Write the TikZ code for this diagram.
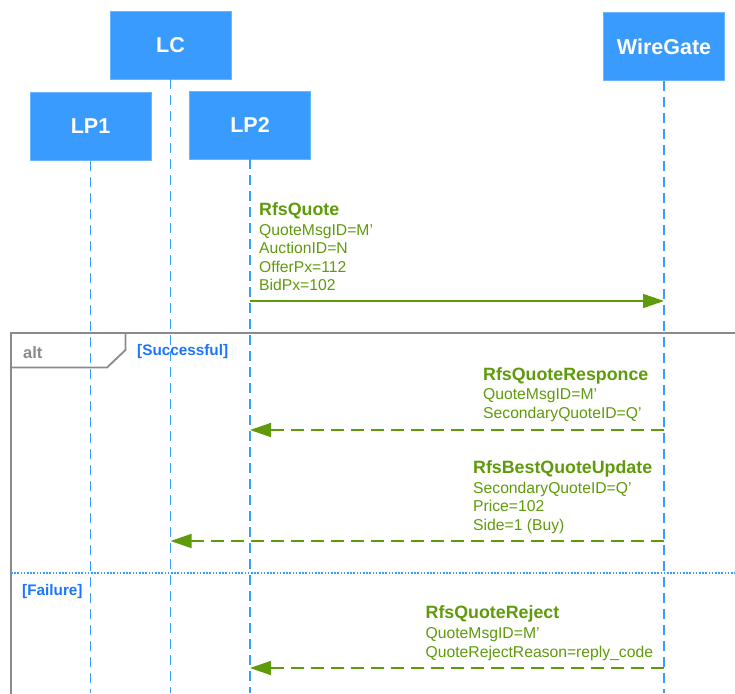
\documentclass[tikz,border=0pt]{standalone}
\usepackage{fontspec}
\setmainfont{Liberation Sans}
\usetikzlibrary{arrows.meta}
\definecolor{boxblue}{HTML}{3A9BFF}
\definecolor{boxedge}{HTML}{6BB5FF}
\definecolor{lifeblue}{HTML}{3D9BFF}
\definecolor{msggreen}{HTML}{5E9A0A}
\definecolor{guardblue}{HTML}{1A75FF}
\definecolor{framegray}{HTML}{8A8A8A}
\begin{document}
\begin{tikzpicture}[x=1pt,y=-1pt,
  actor/.style={draw=boxedge,line width=0.6pt,fill=boxblue,text=white,
    font=\fontsize{21.5}{25}\selectfont\bfseries,
    minimum width=121pt,minimum height=68pt,inner sep=0pt},
  lifeline/.style={draw=lifeblue,line width=1.6pt,dash pattern=on 10pt off 6pt},
  msgcall/.style={draw=msggreen,line width=1.6pt,
    -{Triangle[length=21pt,width=14pt,fill=msggreen]}},
  msgreply/.style={msgcall,dash pattern=on 13pt off 7pt},
  msgtitle/.style={anchor=base west,inner sep=0pt,text=msggreen,
    font=\fontsize{17.8}{20}\selectfont\bfseries},
  msgline/.style={anchor=base west,inner sep=0pt,text=msggreen,
    font=\fontsize{15.7}{18}\selectfont},
  guard/.style={anchor=base west,inner sep=0pt,text=guardblue,
    font=\fontsize{15.3}{17}\selectfont\bfseries},
  frame/.style={draw=framegray,line width=1.8pt},
]
\useasboundingbox (0,0) rectangle (735,693);

% participants
\node[actor] (lc)  at (170.5,45)  {LC};
\node[actor] (lp1) at (90.5,126.5) {LP1};
\node[actor] (lp2) at (250,125)   {LP2};
\node[actor] (wg)  at (664,46.5)  {WireGate};

% lifeline ends
\coordinate (lp1-end) at (90.5,693);
\coordinate (lc-end)  at (170.5,693);
\coordinate (lp2-end) at (250,693);
\coordinate (wg-end)  at (664,693);

\draw[lifeline] (lp1.south) -- (lp1-end);
\draw[lifeline] (lc.south)  -- (lc-end);
\draw[lifeline] (lp2.south) -- (lp2-end);
\draw[lifeline] (wg.south)  -- (wg-end);

% alt combined fragment
\coordinate (alt-tl) at (11,333);
\coordinate (alt-tr) at (740,333);
\coordinate (alt-bl) at (11,700);
\draw[frame] (alt-tr) -- (alt-tl) -- (alt-bl);
\draw[frame] (alt-tl) -- (11,367.5) -- (107,367.5) -- (125.5,350) -- (125.5,333);
\node[anchor=base west,inner sep=0pt,text=framegray,
  font=\fontsize{16.5}{19}\selectfont\bfseries] (altlbl) at (23,358) {alt};
\node[guard] (g1) at (137,355.5) {[Successful]};
\coordinate (sep-l) at (11,573);
\coordinate (sep-r) at (740,573);
\draw[draw=lifeblue,line width=1.2pt,dash pattern=on 1.6pt off 1.6pt] (sep-l) -- (sep-r);
\node[guard] (g2) at (22,595.5) {[Failure]};

% message anchor points on lifelines
\coordinate (m1s) at (lp2.south |- 0,301);
\coordinate (m1e) at (wg.south  |- 0,301);
\coordinate (m2s) at (wg.south  |- 0,430);
\coordinate (m2e) at (lp2.south |- 0,430);
\coordinate (m3s) at (wg.south  |- 0,541);
\coordinate (m3e) at (lc.south  |- 0,541);
\coordinate (m4s) at (wg.south  |- 0,668);
\coordinate (m4e) at (lp2.south |- 0,668);

% RfsQuote
\node[msgtitle] (t1) at (259,215) {RfsQuote};
\node[msgline] at (259,235) {QuoteMsgID=M’};
\node[msgline] at (259,253.5) {AuctionID=N};
\node[msgline] at (259,272) {OfferPx=112};
\node[msgline] at (259,290.5) {BidPx=102};
\draw[msgcall] (m1s) -- (m1e);

% RfsQuoteResponce
\node[msgtitle] (t2) at (483,380) {RfsQuoteResponce};
\node[msgline] at (483,399) {QuoteMsgID=M’};
\node[msgline] at (483,418) {SecondaryQuoteID=Q’};
\draw[msgreply] (m2s) -- (m2e);

% RfsBestQuoteUpdate
\node[msgtitle] (t3) at (473,473) {RfsBestQuoteUpdate};
\node[msgline] at (473,493) {SecondaryQuoteID=Q’};
\node[msgline] at (473,511.5) {Price=102};
\node[msgline] at (473,530) {Side=1 (Buy)};
\draw[msgreply] (m3s) -- (m3e);

% RfsQuoteReject
\node[msgtitle] (t4) at (425.5,618) {RfsQuoteReject};
\node[msgline] at (425.5,638) {QuoteMsgID=M’};
\node[msgline] at (425.5,657) {QuoteRejectReason=reply\_code};
\draw[msgreply] (m4s) -- (m4e);
\end{tikzpicture}
\end{document}
